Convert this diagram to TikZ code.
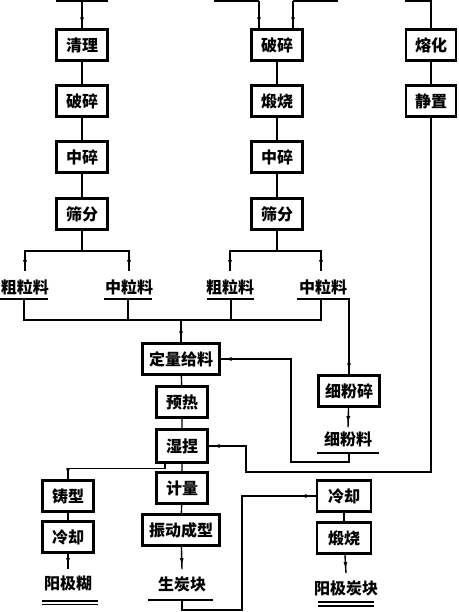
\documentclass[tikz,border=0pt]{standalone}
\usepackage{fontspec}
\newfontfamily\cjk{Noto Sans CJK SC}
\usetikzlibrary{arrows.meta,decorations.markings}
\begin{document}
\begin{tikzpicture}[x=1pt,y=-1pt,
  txt/.style={font=\cjk\bfseries\fontsize{16}{16}\selectfont},
  box/.style={draw,line width=2.2pt,minimum width=51pt,minimum height=31pt,inner sep=0pt,txt},
  wide/.style={box,minimum width=77pt},
  lab/.style={inner sep=1pt,txt},
  ln/.style={line width=1.4pt},
  arr/.style={ln,postaction={decorate},decoration={markings,mark=at position -4pt with {\arrow{Latex[length=7pt,width=4pt]}}}}]
\useasboundingbox (0,0) rectangle (458,612);
% boxes
\node[box] (qingli) at (82,45) {清理};
\node[box] (posui1) at (82,101) {破碎};
\node[box] (zhongsui1) at (82,157) {中碎};
\node[box] (shaifen1) at (82,214) {筛分};
\node[box] (posui2) at (277,45) {破碎};
\node[box] (duanshao1) at (277,101) {煅烧};
\node[box] (zhongsui2) at (277,157) {中碎};
\node[box] (shaifen2) at (277,214) {筛分};
\node[box,minimum width=50pt] (ronghua) at (431,45) {熔化};
\node[box,minimum width=50pt] (jingzhi) at (431,101) {静置};
\node[wide] (dlgl) at (181,359) {定量给料};
\node[box] (yure) at (182,402) {预热};
\node[box,minimum height=33pt] (shinie) at (182,446) {湿捏};
\node[box] (jiliang) at (182,488) {计量};
\node[wide] (zdcx) at (181,530) {振动成型};
\node[box] (zhuxing) at (68,496) {铸型};
\node[box] (lengqueL) at (68,537) {冷却};
\node[box,minimum width=61pt] (xfs) at (349,391) {细粉碎};
\node[box,minimum width=54pt] (lengqueR) at (344,496) {冷却};
\node[box,minimum width=54pt] (duanshao2) at (344,538) {煅烧};
% labels
\node[lab] (cl1) at (25,287) {粗粒料};
\node[lab] (zl1) at (129,287) {中粒料};
\node[lab] (cl2) at (230,287) {粗粒料};
\node[lab] (zl2) at (323,287) {中粒料};
\node[lab] (xfl) at (348,439) {细粉料};
\node[lab] (yjh) at (68,584) {阳极糊};
\node[lab] (stk) at (182,584) {生炭块};
\node[lab] (yjtk) at (346,588) {阳极炭块};
% underlines
\draw[ln] (0,299) -- (48,299);
\draw[ln] (104,299) -- (152,299);
\draw[ln] (207,299) -- (254,299);
\draw[ln] (297,299) -- (350,299);
\draw[ln] (317,453) -- (379,453);
\draw[ln] (148,600) -- (213,600);
\draw[line width=1.1pt] (42,601) -- (98,601) (42,604.5) -- (98,604.5);
\draw[line width=1.1pt] (318,602) -- (374,602) (318,606) -- (374,606);
\coordinate (u1) at (24,299);
\coordinate (u2) at (128,299);
\coordinate (u3) at (231,299);
\coordinate (u4) at (321,299);
\coordinate (u4r) at (349,299);
\coordinate (u5) at (349,453);
\coordinate (u6) at (182,600);
% top feeds
\coordinate (t1) at (82,1);
\coordinate (t2) at (259,1);
\coordinate (t3) at (293,1);
\coordinate (t4) at (431,1);
\draw[ln] (56,1) -- (108,1);
\draw[arr] (t1) -- (qingli);
\draw[ln] (214,1) -- (t2);
\draw[arr] (t2) -- (t2 |- posui2.north);
\draw[ln] (t3) -- (338,1);
\draw[arr] (t3) -- (t3 |- posui2.north);
\draw[ln] (405,1) -- (t4) -- (ronghua);
% chains
\draw[ln] (qingli) -- (posui1) -- (zhongsui1) -- (shaifen1);
\draw[ln] (posui2) -- (duanshao1) -- (zhongsui2) -- (shaifen2);
\draw[ln] (ronghua) -- (jingzhi);
\draw[ln] (dlgl) -- (yure) -- (shinie) -- (jiliang) -- (zdcx);
\draw[ln] (zhuxing) -- (lengqueL);
\draw[ln] (lengqueR) -- (duanshao2);
% splits
\coordinate (s1) at (82,251);
\coordinate (s2) at (277,251);
\draw[ln] (shaifen1) -- (s1);
\draw[arr] (s1) -| ([yshift=7pt]cl1.north);
\draw[arr] (s1) -| ([yshift=7pt]zl1.north);
\draw[ln] (shaifen2) -- (s2);
\draw[arr] (s2) -| ([yshift=7pt]cl2.north);
\draw[arr] (s2) -| ([xshift=-2pt,yshift=7pt]zl2.north);
% merge
\coordinate (m1) at (24,320);
\coordinate (m4) at (321,320);
\coordinate (m0) at (181,320);
\draw[ln] (u1) -- (m1) -- (m4) -- (u4);
\draw[ln] (u2) -- (u2 |- m1);
\draw[ln] (u3) -- (u3 |- m1);
\draw[arr] (m0) -- (dlgl);
% fine powder
\draw[arr] (u4r) -- (u4r |- xfs.north);
\draw[arr] (xfs) -- ([yshift=3pt]xfl.north);
\draw[arr] (u5) -- (349,462) -- (291,462) -- (291,359) -- (dlgl.east);
% pitch
\draw[arr] (jingzhi) -- (431,472) -- (246,472) -- (246,446) -- (shinie.east);
% paste
\draw[arr] ([xshift=-17pt]shinie.south) -- ++(0,5) -| (zhuxing.north);
\draw[arr] (lengqueL) -- ([yshift=6pt]yjh.north);
\draw[arr] (zdcx) -- ([yshift=6pt]stk.north);
\draw[arr] (u6) -- (182,610) -- (242,610) -- (242,496) -- (lengqueR.west);
\draw[arr] (duanshao2) -- ([yshift=6pt]yjtk.north);
\end{tikzpicture}
\end{document}
